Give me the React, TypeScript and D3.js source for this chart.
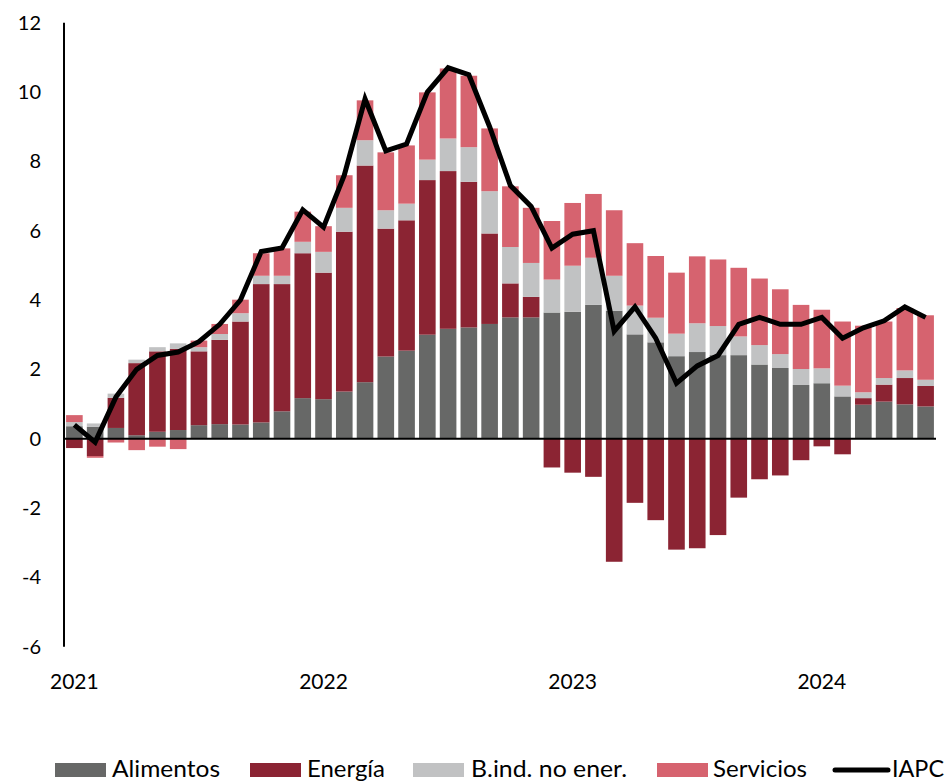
import React from "react";
import * as d3 from "d3";

const months = [
  "2021-01","2021-02","2021-03","2021-04","2021-05","2021-06","2021-07","2021-08","2021-09","2021-10","2021-11","2021-12",
  "2022-01","2022-02","2022-03","2022-04","2022-05","2022-06","2022-07","2022-08","2022-09","2022-10","2022-11","2022-12",
  "2023-01","2023-02","2023-03","2023-04","2023-05","2023-06","2023-07","2023-08","2023-09","2023-10","2023-11","2023-12",
  "2024-01","2024-02","2024-03","2024-04","2024-05","2024-06",
];

const alimentos = [
  0.36, 0.34, 0.31, 0.1, 0.2, 0.25, 0.39, 0.42, 0.41, 0.47, 0.79, 1.17,
  1.14, 1.36, 1.63, 2.37, 2.54, 3.0, 3.17, 3.21, 3.31, 3.5, 3.5, 3.64,
  3.66, 3.86, 3.69, 3.01, 2.78, 2.38, 2.5, 2.41, 2.41, 2.14, 2.04, 1.55,
  1.6, 1.22, 0.98, 1.07, 0.99, 0.93,
];
const energia = [
  -0.27, -0.5, 0.87, 2.08, 2.32, 2.34, 2.13, 2.43, 2.97, 3.99, 3.67, 4.18,
  3.65, 4.61, 6.25, 3.69, 3.76, 4.46, 4.55, 4.2, 2.61, 0.98, 0.59, -0.83,
  -0.98, -1.1, -3.55, -1.85, -2.35, -3.2, -3.16, -2.78, -1.7, -1.17, -1.06, -0.62,
  -0.22, -0.45, 0.19, 0.49, 0.76, 0.59,
];
const bienes = [
  0.12, 0.1, 0.12, 0.1, 0.12, 0.16, 0.12, 0.17, 0.24, 0.24, 0.24, 0.33,
  0.6, 0.69, 0.73, 0.53, 0.48, 0.59, 0.94, 1.0, 1.22, 1.05, 0.98, 0.95,
  1.33, 1.36, 1.01, 0.83, 0.71, 0.65, 0.83, 0.84, 0.54, 0.56, 0.4, 0.46,
  0.43, 0.31, 0.17, 0.19, 0.22, 0.18,
];
const servicios = [
  0.2, -0.05, -0.11, -0.33, -0.23, -0.3, 0.19, 0.29, 0.39, 0.65, 0.79, 0.87,
  0.74, 0.94, 1.15, 1.67, 1.68, 1.94, 2.02, 2.06, 1.81, 1.75, 1.59, 1.69,
  1.81, 1.84, 1.89, 1.8, 1.78, 1.76, 1.93, 1.92, 1.98, 1.92, 1.87, 1.85,
  1.69, 1.85, 1.92, 1.63, 1.8, 1.86,
];
const iapc = [
  0.4, -0.1, 1.2, 2.0, 2.4, 2.5, 2.8, 3.3, 4.0, 5.4, 5.5, 6.6,
  6.1, 7.6, 9.8, 8.3, 8.5, 10.0, 10.7, 10.5, 9.0, 7.3, 6.7, 5.5,
  5.9, 6.0, 3.1, 3.8, 2.9, 1.6, 2.1, 2.4, 3.3, 3.5, 3.3, 3.3,
  3.5, 2.9, 3.2, 3.4, 3.8, 3.5,
];

const yTicks = [12, 10, 8, 6, 4, 2, 0, -2, -4, -6];
const yearLabels = ["2021", "2022", "2023", "2024"];

const seriesKeys = ["alimentos", "energia", "bienes", "servicios"];
const seriesNames = ["Alimentos", "Energía", "B.ind. no ener.", "Servicios"];
const lineName = "IAPC";
const colors = ["#676867", "#8B2433", "#C1C2C3", "#D6636F"];

const FONT = "Lato, 'Open Sans', sans-serif";

export default function App() {
  const width = 951;
  const height = 783;
  const left = 64;
  const right = 936;
  const yTop = 22.7;
  const yBottom = 646.7;

  const rows = months.map((m, i) => ({
    month: m,
    alimentos: alimentos[i],
    energia: energia[i],
    bienes: bienes[i],
    servicios: servicios[i],
  }));

  const x = d3
    .scaleBand<string>()
    .domain(months)
    .range([left, right])
    .paddingInner(0.2)
    .paddingOuter(0.1);

  const y = d3.scaleLinear().domain([-6, 12]).range([yBottom, yTop]);

  const stack = d3
    .stack<any>()
    .keys(seriesKeys)
    .offset(d3.stackOffsetDiverging);
  const layers = stack(rows);

  const line = d3
    .line<number>()
    .x((_, i) => (x(months[i]) as number) + x.bandwidth() / 2)
    .y((d) => y(d))
    .curve(d3.curveLinear);

  const legendItems = [
    { sx: 55, tx: 112, w: 108, label: seriesNames[0], color: colors[0] },
    { sx: 250, tx: 307, w: 78, label: seriesNames[1], color: colors[1] },
    { sx: 413, tx: 471, w: 156, label: seriesNames[2], color: colors[2] },
    { sx: 657, tx: 713, w: 94, label: seriesNames[3], color: colors[3] },
  ];

  return (
    <svg
      width={width}
      height={height}
      style={{ position: "absolute", left: 0, top: 0, background: "#fff" }}
      fontFamily={FONT}
    >
      {layers.map((layer, li) => (
        <g key={layer.key} fill={colors[li]}>
          {layer.map((d, i) => {
            const y0 = y(d[0]);
            const y1 = y(d[1]);
            const h = Math.abs(y0 - y1);
            if (h < 0.01) return null;
            return (
              <rect
                key={i}
                x={x(months[i])}
                y={Math.min(y0, y1)}
                width={x.bandwidth()}
                height={h}
              />
            );
          })}
        </g>
      ))}

      {/* zero line */}
      <line x1={left} x2={right} y1={y(0)} y2={y(0)} stroke="#000" strokeWidth={2} />
      {/* y axis */}
      <line x1={left} x2={left} y1={yTop} y2={yBottom} stroke="#000" strokeWidth={2} />

      {/* IAPC line */}
      <path
        d={line(iapc) || ""}
        fill="none"
        stroke="#000"
        strokeWidth={5}
        strokeLinejoin="miter"
        strokeLinecap="butt"
      />

      {/* y tick labels */}
      {yTicks.map((t) => (
        <text
          key={t}
          x={41}
          y={y(t)}
          dy="0.35em"
          textAnchor="end"
          fontSize={20}
          fill="#000"
        >
          {t}
        </text>
      ))}

      {/* year labels */}
      {yearLabels.map((lab, k) => (
        <text
          key={lab}
          x={(x(months[k * 12]) as number) + x.bandwidth() / 2}
          y={689}
          textAnchor="middle"
          fontSize={21}
          fill="#000"
        >
          {lab}
        </text>
      ))}

      {/* legend */}
      {legendItems.map((it) => (
        <g key={it.label}>
          <rect x={it.sx} y={763} width={51} height={14} fill={it.color} />
          <text
            x={it.tx}
            y={777}
            fontSize={23.5}
            fill="#000"
            textLength={it.w}
            lengthAdjust="spacingAndGlyphs"
          >
            {it.label}
          </text>
        </g>
      ))}
      <line
        x1={835}
        x2={888}
        y1={770}
        y2={770}
        stroke="#000"
        strokeWidth={5}
        strokeLinecap="round"
      />
      <text
        x={892}
        y={777}
        fontSize={23.5}
        fill="#000"
        textLength={52}
        lengthAdjust="spacingAndGlyphs"
      >
        {lineName}
      </text>
    </svg>
  );
}
